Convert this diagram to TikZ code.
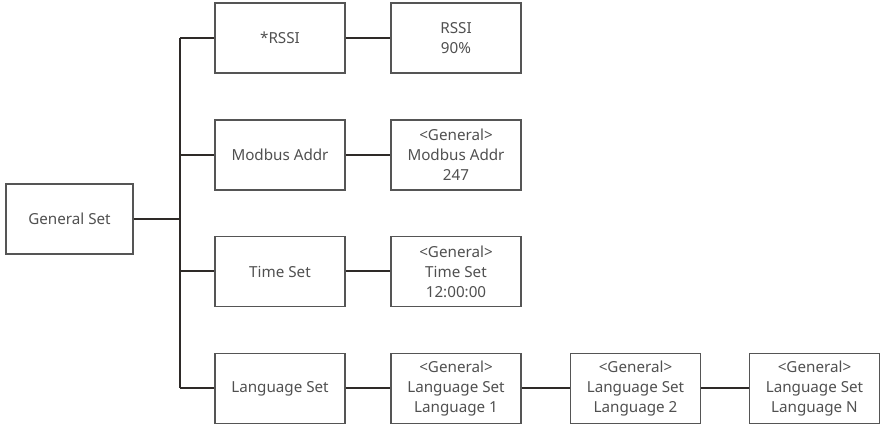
\documentclass[tikz,border=0pt]{standalone}
\usepackage{fontspec}
\setmainfont{Noto Sans}
\definecolor{boxc}{HTML}{555555}
\definecolor{txtc}{HTML}{505050}
\definecolor{linec}{HTML}{2E2A28}
\begin{document}
\begin{tikzpicture}[x=1pt,y=-1pt,
  box/.style={draw=boxc,line width=1.1pt,minimum width=130pt,minimum height=70pt,
    inner sep=0pt,align=center,text=txtc,font=\fontsize{15.2}{20}\selectfont},
  conn/.style={draw=linec,line width=2pt}]
\useasboundingbox (0,0) rectangle (881,427);
\node[box,minimum width=127pt] (gen) at (69.5,219) {General Set};
\node[box] (rssi) at (280,38) {*RSSI};
\node[box] (mod) at (280,155) {Modbus Addr};
\node[box] (time) at (280,271.5) {Time Set};
\node[box] (lang) at (280,388.5) {Language Set};
\node[box] (rssiv) at (456,38) {RSSI\\90\%};
\node[box] (modv) at (456,155) {<General>\\Modbus Addr\\247};
\node[box] (timev) at (456,271.5) {<General>\\Time Set\\12:00:00};
\node[box] (l1) at (456,388.5) {<General>\\Language Set\\Language 1};
\node[box] (l2) at (635.5,388.5) {<General>\\Language Set\\Language 2};
\node[box] (ln) at (814.5,388.5) {<General>\\Language Set\\Language N};
\coordinate (bt) at (180,38);
\coordinate (bb) at (180,388.5);
\draw[conn] (bt) -- (bb);
\draw[conn] (gen.east) -- (gen.east -| bt);
\draw[conn] (bt) -- (rssi.west);
\draw[conn] (mod.west -| bt) -- (mod.west);
\draw[conn] (time.west -| bt) -- (time.west);
\draw[conn] (bb) -- (lang.west);
\draw[conn] (rssi) -- (rssiv);
\draw[conn] (mod) -- (modv);
\draw[conn] (time) -- (timev);
\draw[conn] (lang) -- (l1);
\draw[conn] (l1) -- (l2);
\draw[conn] (l2) -- (ln);
\end{tikzpicture}
\end{document}
